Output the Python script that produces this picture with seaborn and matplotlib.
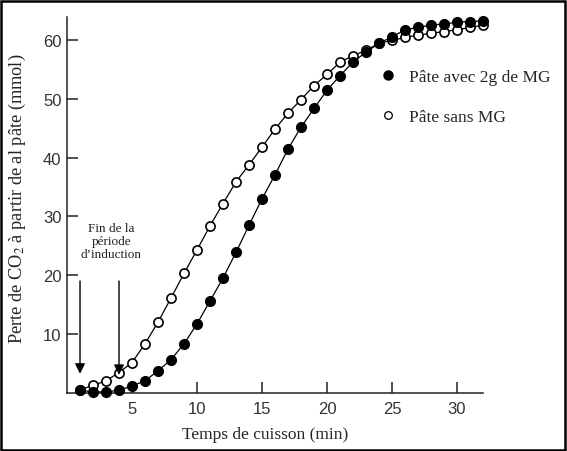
import matplotlib
matplotlib.use("Agg")
import matplotlib.pyplot as plt
import seaborn as sns
import pandas as pd
from matplotlib.lines import Line2D
from matplotlib.patches import Rectangle

# ---- data ----
minutes = list(range(1, 33))
avec_mg = [0.4, 0.1, 0.1, 0.4, 1.1, 2.0, 3.7, 5.6, 8.3, 11.7,
           15.6, 19.5, 23.9, 28.5, 33.0, 37.1, 41.5, 45.2, 48.4, 51.5,
           54.0, 56.3, 58.0, 59.5, 60.6, 61.8, 62.2, 62.6, 62.8, 63.1,
           63.2, 63.3]
sans_mg = [0.5, 1.2, 2.0, 3.4, 5.1, 8.3, 12.0, 16.1, 20.3, 24.3,
           28.4, 32.2, 35.9, 38.8, 41.8, 44.9, 47.6, 49.9, 52.3, 54.2,
           56.3, 57.4, 58.3, 59.5, 60.0, 60.5, 60.9, 61.2, 61.5, 61.8,
           62.2, 62.6]
x_ticks = [5, 10, 15, 20, 25, 30]
y_ticks = [10, 20, 30, 40, 50, 60]
label_avec = "Pâte avec 2g de MG"
label_sans = "Pâte sans MG"
arrow_x = [1, 4]
arrow_top = [19, 19]
arrow_tip = [3.2, 3.0]
annot_text = "Fin de la\npériode\nd\u2019induction"
xlabel = "Temps de cuisson (min)"
ylabel = "Perte de CO$_2$ à partir de al pâte (mmol)"

sns.set_style("ticks")
plt.rcParams['font.family'] = ['Liberation Serif', 'DejaVu Serif']
plt.rcParams['mathtext.fontset'] = 'stix'

fig = plt.figure(figsize=(5.67, 4.52), dpi=100)
ax = fig.add_axes([0.1182, 0.1294, 0.7337, 0.831])

df = pd.DataFrame({"t": minutes, "avec": avec_mg, "sans": sans_mg})

sns.lineplot(data=df, x="t", y="sans", ax=ax, color="black", lw=0.9,
             marker="o", markersize=6.6, markerfacecolor="white",
             markeredgecolor="black", markeredgewidth=1.2,
             clip_on=False, zorder=3)
sns.lineplot(data=df, x="t", y="avec", ax=ax, color="black", lw=0.9,
             marker="o", markersize=7.0, markerfacecolor="black",
             markeredgecolor="black", markeredgewidth=1.0,
             clip_on=False, zorder=4)

ax.set_xlim(0, 32)
ax.set_ylim(0, 64)
ax.set_xticks(x_ticks)
ax.set_yticks(y_ticks)
ax.set_xlabel("")
ax.set_ylabel("")
sns.despine(ax=ax)
for s in ("left", "bottom"):
    ax.spines[s].set_linewidth(1.1)
    ax.spines[s].set_color("#222222")
ax.tick_params(direction="in", length=8, width=1.1, color="#222222",
               labelcolor="#333333", labelsize=12)
ax.tick_params(axis="y", pad=4)
ax.tick_params(axis="x", pad=6)
for lab in ax.get_xticklabels() + ax.get_yticklabels():
    lab.set_fontfamily("Liberation Sans")

# arrows
for xa, yt, yb in zip(arrow_x, arrow_top, arrow_tip):
    ax.annotate("", xy=(xa, yb), xytext=(xa, yt),
                arrowprops=dict(arrowstyle="-|>", color="black", lw=1.0,
                                mutation_scale=15, shrinkA=0, shrinkB=0),
                zorder=5)
ax.text(3.4, 25.8, annot_text, ha="center", va="center", fontsize=9.5,
        linespacing=1.1, color="#222222")

# legend
handles = [Line2D([], [], marker="o", ls="none", color="black", markersize=6.5),
           Line2D([], [], marker="o", ls="none", markerfacecolor="white",
                  markeredgecolor="black", markersize=5.5, markeredgewidth=0.9)]
ax.legend(handles, [label_avec, label_sans], loc="upper left",
          bbox_to_anchor=(0.653, 0.865), bbox_transform=fig.transFigure,
          frameon=False, fontsize=12.5, handlelength=1.0,
          handletextpad=0.75, labelspacing=1.4, borderpad=0)

fig.text(0.467, 0.038, xlabel, ha="center", va="center", fontsize=12.5)
fig.text(0.030, 0.56, ylabel, ha="center", va="center", rotation=90,
         fontsize=13.2)

fig.add_artist(Rectangle((0.002, 0.003), 0.994, 0.993, transform=fig.transFigure,
                         fill=False, lw=1.8, ec="black"))

fig.savefig("out.png", dpi=100)
